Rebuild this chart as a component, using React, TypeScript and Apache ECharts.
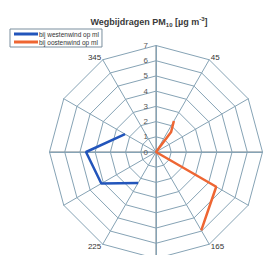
import React, { useEffect, useRef } from "react";
import * as echarts from "echarts";

// compass directions of the grid spokes (degrees, clockwise from north)
const spokeAngles = [0, 30, 60, 90, 120, 150, 180, 210, 240, 270, 300, 330];
// labels printed next to some spokes
const spokeLabels: Record<number, string> = { 30: "45", 330: "345", 150: "165", 210: "225" };
const radiusTicks = [0, 1, 2, 3, 4, 5, 6, 7];
const seriesNames = ["bij westenwind op ml", "bij oostenwind op ml"];
// [radius (µg/m3), direction (deg)]
const westData: [number, number][] = [
  [2.35, 300],
  [4.6, 270],
  [4.15, 240],
  [2.35, 210],
];
const eastData: [number, number][] = [
  [2.35, 30],
  [1.65, 37],
  [0, 90],
  [4.57, 120],
  [5.95, 150],
];

const CX = 156;
const CY = 152;
const R = 106.5;
const GRID = "#86a3b5";

export default function App() {
  const ref = useRef<HTMLDivElement>(null);
  useEffect(() => {
    if (!ref.current) return;
    const chart = echarts.init(ref.current, undefined, { renderer: "svg" });
    // radar indicators run counter-clockwise from the top
    const order = [0, ...spokeAngles.slice(1).reverse()];
    chart.setOption({
      animation: false,
      title: {
        text: "{b|Wegbijdragen PM}{s|10}{b| [µg m}{p|-3}{b|]}",
        left: 144,
        textAlign: "center",
        top: 11,
        textStyle: {
          rich: {
            b: { fontSize: 9, fontWeight: "bold", color: "#3a3a3a", fontFamily: "Arial, Liberation Sans", lineHeight: 12 },
            s: { fontSize: 6, fontWeight: "bold", color: "#3a3a3a", fontFamily: "Arial, Liberation Sans", verticalAlign: "bottom", lineHeight: 12 },
            p: { fontSize: 6, fontWeight: "bold", color: "#3a3a3a", fontFamily: "Arial, Liberation Sans", verticalAlign: "top", lineHeight: 12 },
          },
        },
      },
      legend: {
        orient: "vertical",
        left: 10,
        top: 29,
        data: seriesNames,
        itemWidth: 24,
        itemHeight: 3,
        itemGap: 0,
        padding: [1, 3, 1, 4],
        borderColor: "#7a8f9e",
        borderWidth: 1,
        icon: "rect",
        textStyle: { fontSize: 6.5, color: "#333", fontFamily: "Arial, Liberation Sans", lineHeight: 8, padding: [0, 0, 0, -4] },
      },
      radar: {
        center: [CX, CY],
        radius: R,
        startAngle: 90,
        shape: "polygon",
        splitNumber: 7,
        indicator: order.map((a) => ({ name: spokeLabels[a] || "", max: 7, min: 0 })),
        axisName: { color: "#333", fontSize: 8, fontFamily: "Arial, Liberation Sans" },
        nameGap: 3,
        splitLine: { lineStyle: { color: GRID, width: 1 } },
        splitArea: { show: false },
        axisLine: { lineStyle: { color: GRID, width: 1 } },
        axisTick: { show: false },
        axisLabel: { show: false },
      },
      polar: { center: [CX, CY], radius: R },
      angleAxis: {
        type: "value",
        min: 0,
        max: 360,
        interval: 90,
        startAngle: 90,
        clockwise: true,
        axisLine: { show: false },
        axisTick: { show: false },
        axisLabel: { show: false },
        splitLine: { show: true, lineStyle: { color: "#6e7f88", width: 1 } },
      },
      radiusAxis: {
        type: "value",
        min: 0,
        max: 7,
        interval: 1,
        axisLine: { show: false },
        axisTick: { show: false },
        splitLine: { show: false },
        axisLabel: {
          show: true,
          fontSize: 8,
          color: "#555",
          fontFamily: "Arial, Liberation Sans",
          formatter: (v: number) => (radiusTicks.includes(v) ? String(v) : ""),
        },
      },
      series: [
        {
          name: seriesNames[0],
          type: "line",
          coordinateSystem: "polar",
          data: westData,
          symbol: "none",
          lineStyle: { color: "#2255bb", width: 2.5 },
          itemStyle: { color: "#2255bb" },
        },
        {
          name: seriesNames[1],
          type: "line",
          coordinateSystem: "polar",
          data: eastData,
          symbol: "none",
          lineStyle: { color: "#ee6633", width: 2.5 },
          itemStyle: { color: "#ee6633" },
        },
      ],
    });
    return () => chart.dispose();
  }, []);
  return <div ref={ref} style={{ position: "fixed", left: 0, top: 0, width: 263, height: 255, background: "#fff" }} />;
}
